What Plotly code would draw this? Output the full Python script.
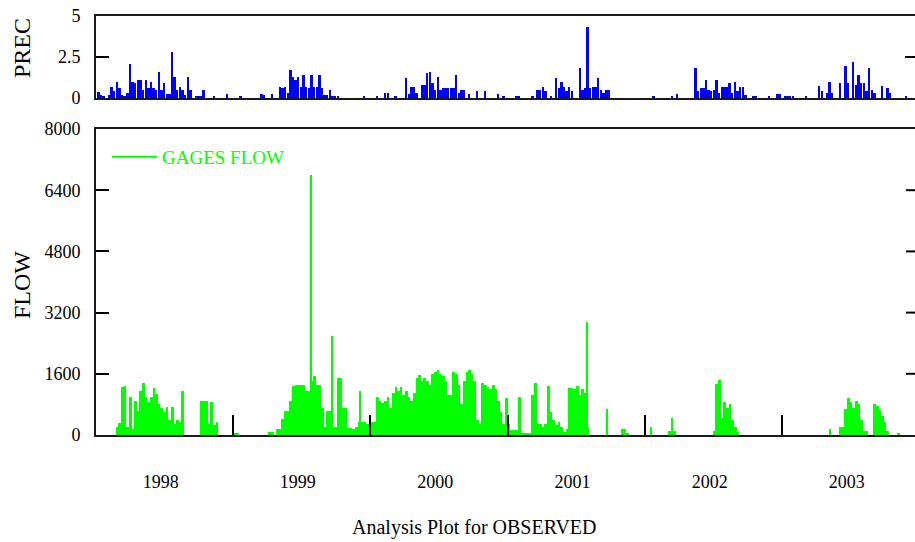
import plotly.graph_objects as go
import pandas as pd

# ---------------- data (weekly values, starting 1998-01-01) -------------
series_start = "1998-01-01"

flow_weekly = [
    0, 0, 0, 0, 0, 0, 0, 0, 200, 320,
    1250, 1280, 200, 1000, 150, 900, 630, 1150, 1370, 1000,
    850, 1000, 1240, 1060, 800, 700, 600, 740, 400, 740,
    300, 380, 350, 1140, 0, 0, 0, 0, 0, 0,
    900, 900, 900, 290, 870, 260, 330, 0, 0, 0,
    0, 0, 0, 40, 40, 0, 0, 0, 0, 0,
    0, 0, 0, 0, 0, 0, 90, 90, 0, 150,
    150, 410, 640, 640, 900, 1280, 1320, 1320, 1320, 1320,
    1150, 1150, 1400, 1550, 1300, 1300, 700, 200, 620, 620,
    200, 200, 1500, 1500, 700, 700, 180, 180, 150, 200,
    330, 350, 330, 300, 300, 330, 330, 1000, 900, 830,
    900, 1000, 700, 1100, 1250, 1150, 1250, 1050, 1150, 1000,
    900, 1100, 1500, 1560, 1400, 1500, 1400, 1300, 1600, 1650,
    1700, 1600, 1550, 1400, 1050, 1050, 1650, 1600, 1300, 800,
    1400, 1650, 1700, 1600, 1400, 400, 300, 1350, 1300, 1250,
    1200, 1300, 1200, 900, 600, 300, 980, 300, 130, 130,
    130, 1000, 60, 60, 60, 60, 1050, 1370, 300, 300,
    200, 300, 1280, 600, 400, 250, 350, 200, 80, 150,
    1230, 1230, 1200, 1280, 1050, 1200, 1100, 200, 0, 0,
    0, 0, 0, 0, 0, 0, 0, 0, 0, 0,
    150, 150, 60, 0, 0, 0, 0, 0, 0, 0,
    0, 200, 0, 0, 0, 0, 0, 0, 100, 450,
    100, 0, 0, 0, 0, 0, 0, 0, 0, 0,
    0, 0, 0, 0, 0, 100, 1330, 1450, 450, 850,
    700, 800, 400, 200, 80, 0, 0, 0, 0, 0,
    0, 0, 0, 0, 0, 0, 0, 0, 0, 0,
    0, 0, 0, 0, 0, 0, 0, 0, 0, 0,
    0, 0, 0, 0, 0, 0, 0, 0, 0, 150,
    0, 0, 0, 200, 200, 670, 975, 850, 700, 900,
    800, 400, 100, 100, 0, 0, 820, 750, 650, 500,
    350, 100, 0, 0, 0, 60, 0, 0, 0, 0,
    0, 0, 0,
]

flow_spike_dates = ["1999-07-27", "1999-09-21", "1999-12-04", "2001-08-01", "2001-09-21"]
flow_spike_values = [6800, 2600, 1150, 2950, 670]

prec_weekly = [
    0, 0.38, 0.2, 0.1, 0, 0.2, 0.7, 0.4, 1.0, 0.6,
    0.2, 0.1, 0.3, 2.1, 1.0, 0.9, 1.1, 1.1, 0.5, 1.1,
    0.6, 1.0, 0.6, 0.5, 1.6, 0.5, 0.9, 0.25, 0.25, 2.8,
    1.3, 0.5, 0.7, 0.5, 0.2, 1.3, 0.5, 0, 0.15, 0.15,
    0.15, 0.5, 0, 0, 0, 0.15, 0, 0, 0, 0,
    0.25, 0, 0, 0, 0, 0.15, 0, 0, 0, 0,
    0, 0, 0, 0.25, 0.2, 0, 0, 0.25, 0, 0,
    0.7, 0.6, 0.65, 0.3, 1.7, 1.3, 1.1, 1.3, 0.7, 1.4,
    0.7, 0.6, 1.4, 0.7, 0.7, 1.4, 0.6, 0.2, 0.2, 0.5,
    0.15, 0.15, 0.15, 0, 0, 0, 0, 0, 0, 0,
    0, 0, 0.15, 0, 0, 0, 0, 0.15, 0, 0,
    0.3, 0.3, 0, 0, 0.15, 0, 0, 0, 1.2, 0.25,
    0.7, 0.7, 0.3, 0, 0.8, 0.8, 1.5, 1.6, 0.9, 0.5,
    1.3, 0.5, 0.6, 0.6, 0.6, 0.6, 0.6, 1.4, 0.3, 0.5,
    0.5, 0, 0.25, 0, 0, 0.4, 0, 0, 0.4, 0,
    0, 0, 0, 0.25, 0, 0.15, 0, 0, 0, 0,
    0.15, 0.15, 0, 0, 0, 0, 0.15, 0, 0.5, 0.5,
    0.7, 0.4, 0, 0.15, 0, 1.2, 0.6, 1.0, 0.7, 0.4,
    0.7, 0.4, 0, 0, 1.8, 0.5, 0.6, 4.3, 0.6, 0.7,
    0.7, 1.2, 0.5, 0.3, 0.5, 0.5, 0, 0, 0, 0,
    0, 0, 0, 0, 0, 0, 0, 0, 0, 0,
    0, 0, 0.15, 0, 0, 0, 0, 0, 0, 0.15,
    0, 0.25, 0, 0, 0, 0, 0, 0, 1.85, 0.4,
    0.6, 0.6, 1.1, 0.5, 0.4, 0.5, 1.1, 0.3, 0.7, 0.7,
    0.7, 0.9, 0.3, 1.0, 0.4, 0.7, 0.7, 0.2, 0, 0,
    0.15, 0.15, 0, 0, 0, 0, 0.15, 0, 0, 0.25,
    0.25, 0, 0.15, 0.15, 0.15, 0.15, 0, 0, 0, 0,
    0.15, 0, 0, 0, 0, 0.75, 0.4, 0, 0.3, 1.0,
    0.3, 0, 0, 0.9, 0, 1.95, 0.9, 0, 2.2, 0.8,
    1.4, 0.9, 0.9, 0.4, 1.85, 0.5, 0.3, 0, 0, 0.75,
    0, 0.6, 0.3, 0, 0, 0, 0, 0, 0.15, 0,
    0, 0, 0,
]

years = [1998, 1999, 2000, 2001, 2002, 2003]
flow_ticks = [0, 1600, 3200, 4800, 6400, 8000]
prec_ticks = [0, 2.5, 5]
prec_ticktext = ["0", "2.5", "5"]

# ---------------- figure ----------------
DAY = 86400000
start = pd.Timestamp(series_start)
flow_dates = [start + pd.Timedelta(days=7 * i) for i in range(len(flow_weekly))]
prec_dates = [start + pd.Timedelta(days=7 * i) for i in range(len(prec_weekly))]

FONT = "Liberation Serif"
W, H = 915, 542
L, R, T, B = 96, 0, 16, 107
pw = W - L - R
ph = H - T - B


def py(ypix):
    return (H - B - ypix) / ph


def px(xpix):
    return (xpix - L) / pw


fig = go.Figure()
fig.add_trace(go.Bar(x=prec_dates, y=prec_weekly, width=5 * DAY, marker_color="#0000ff",
                     marker_line_width=0, xaxis="x2", yaxis="y2", showlegend=False))
fig.add_trace(go.Bar(x=flow_dates, y=flow_weekly, width=7 * DAY, marker_color="#00ff00",
                     marker_line_width=0, showlegend=False))
fig.add_trace(go.Bar(x=pd.to_datetime(flow_spike_dates), y=flow_spike_values, width=3 * DAY,
                     marker_color="#00ff00", marker_line_width=0, showlegend=False))
fig.add_trace(go.Scatter(x=[None], y=[None], mode="lines", name="GAGES FLOW",
                         line=dict(color="#00ff00", width=2)))

x_end = start + pd.Timedelta(days=pw * 365.25 / 137.25)
xr = [start, x_end]
axis_col = "#1a1a1a"
tickfont = dict(family=FONT, size=18, color="black")

fig.update_layout(
    width=W, height=H,
    margin=dict(l=L, r=R, t=T, b=B, pad=0, autoexpand=False),
    paper_bgcolor="white", plot_bgcolor="white",
    barmode="overlay", bargap=0,
    font=dict(family=FONT, color="black", size=18),
    xaxis=dict(
        domain=[0, 1], anchor="y", range=xr, type="date", automargin=False,
        showline=True, linecolor=axis_col, linewidth=2, mirror=True,
        showgrid=False, zeroline=False,
        tickmode="array",
        tickvals=[f"{y}-06-22" for y in years],
        ticktext=[str(y) for y in years],
        ticks="", ticklabelstandoff=29,
        tickfont=tickfont,
        minor=dict(tickmode="array", tickvals=[f"{y}-01-01" for y in years[1:]],
                   ticks="inside", ticklen=20, tickwidth=2, tickcolor="black",
                   showgrid=False),
    ),
    yaxis=dict(
        domain=[0, py(129)], anchor="x", range=[0, 8000], automargin=False,
        tickmode="array", tickvals=flow_ticks, ticktext=[str(v) for v in flow_ticks],
        ticks="inside", ticklen=13, tickwidth=2, tickcolor="black",
        showline=True, linecolor=axis_col, linewidth=2, mirror=False,
        showgrid=False, zeroline=False, ticklabelstandoff=10,
        tickfont=tickfont,
    ),
    xaxis2=dict(
        domain=[0, 1], anchor="y2", range=xr, type="date", matches="x", automargin=False,
        showline=True, linecolor=axis_col, linewidth=2, mirror=True,
        showgrid=False, zeroline=False, showticklabels=False, ticks="",
    ),
    yaxis2=dict(
        domain=[py(98), 1], anchor="x2", range=[0, 5], automargin=False,
        tickmode="array", tickvals=prec_ticks, ticktext=prec_ticktext,
        ticks="inside", ticklen=13, tickwidth=2, tickcolor="black",
        showline=True, linecolor=axis_col, linewidth=2, mirror=False,
        showgrid=False, zeroline=False, ticklabelstandoff=10,
        tickfont=tickfont,
    ),
    legend=dict(
        x=px(107), y=py(138), xanchor="left", yanchor="top",
        bgcolor="rgba(0,0,0,0)", borderwidth=0, itemwidth=45,
        font=dict(family=FONT, size=19, color="#00ff00"),
    ),
    showlegend=True,
)

# mirrored right-hand ticks (the right border itself lies just outside the picture)
shapes = []
for v in flow_ticks[1:-1]:
    shapes.append(dict(type="line", xref="paper", yref="y", x0=1 - 9 / pw, x1=1,
                       y0=v, y1=v, line=dict(color="black", width=2)))
for v in prec_ticks[1:-1]:
    shapes.append(dict(type="line", xref="paper", yref="y2", x0=1 - 10 / pw, x1=1,
                       y0=v, y1=v, line=dict(color="black", width=2)))
fig.update_layout(shapes=shapes)

fig.add_annotation(text="PREC", xref="paper", yref="paper", x=px(22), y=py(48),
                   xanchor="center", yanchor="middle", textangle=-90, showarrow=False,
                   font=dict(family=FONT, size=24, color="black"))
fig.add_annotation(text="FLOW", xref="paper", yref="paper", x=px(22), y=py(285),
                   xanchor="center", yanchor="middle", textangle=-90, showarrow=False,
                   font=dict(family=FONT, size=24, color="black"))
fig.add_annotation(text="Analysis Plot for OBSERVED", xref="paper", yref="paper",
                   x=px(474), y=py(527), xanchor="center", yanchor="middle", showarrow=False,
                   font=dict(family=FONT, size=20, color="black"))

fig.write_html("out.html", config={"displayModeBar": False},
               post_script="document.body.style.margin='0px';document.body.style.overflow='hidden';")
